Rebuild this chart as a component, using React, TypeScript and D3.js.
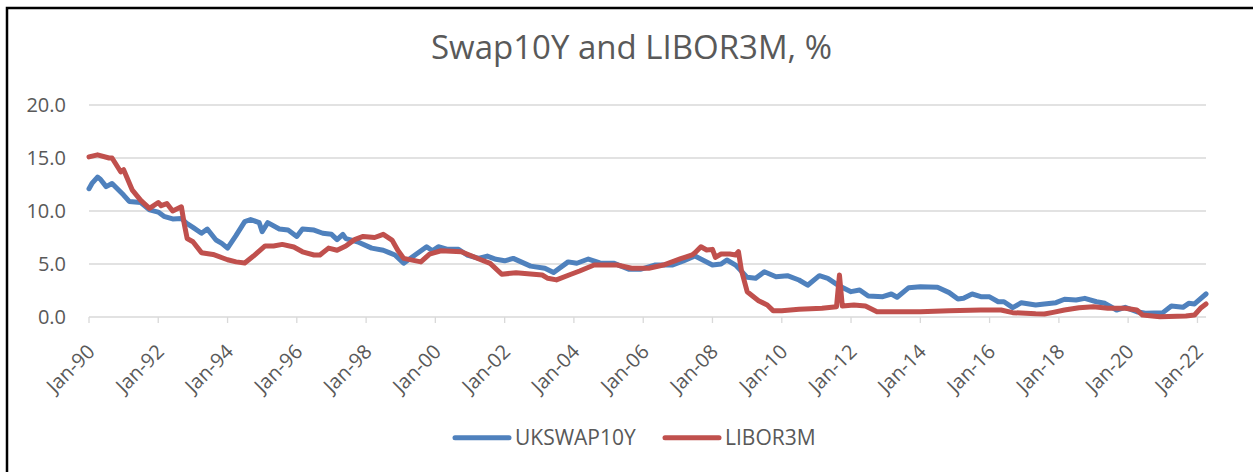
import React from "react";
import * as d3 from "d3";

const blueDates = ["1990-01","1990-02","1990-04","1990-05","1990-07","1990-09","1991-01","1991-03","1991-07","1991-10","1992-01","1992-03","1992-06","1992-09","1992-11","1993-01","1993-04","1993-06","1993-09","1993-11","1994-01","1994-04","1994-07","1994-09","1994-12","1995-01","1995-03","1995-07","1995-10","1996-01","1996-03","1996-07","1996-10","1997-01","1997-03","1997-05","1997-06","1997-10","1998-03","1998-07","1998-09","1998-11","1999-02","1999-06","1999-10","1999-12","2000-02","2000-05","2000-09","2000-12","2001-04","2001-07","2001-10","2002-01","2002-04","2002-10","2003-03","2003-06","2003-11","2004-02","2004-06","2004-10","2005-03","2005-08","2005-12","2006-05","2006-11","2007-03","2007-07","2008-01","2008-04","2008-06","2008-09","2009-01","2009-04","2009-07","2009-11","2010-03","2010-07","2010-10","2011-02","2011-05","2011-09","2012-01","2012-04","2012-07","2012-12","2013-03","2013-05","2013-09","2014-01","2014-07","2014-11","2015-02","2015-04","2015-07","2015-10","2016-01","2016-04","2016-06","2016-09","2016-12","2017-05","2017-08","2017-12","2018-03","2018-07","2018-10","2019-02","2019-05","2019-09","2019-12","2020-04","2020-07","2021-01","2021-04","2021-08","2021-10","2021-12","2022-04"];
const blueValues = [12.1,12.6,13.2,13.0,12.3,12.6,11.5,10.9,10.8,10.1,9.9,9.5,9.25,9.3,8.8,8.45,7.9,8.3,7.26,6.95,6.5,7.7,9.0,9.2,8.9,8.05,8.9,8.3,8.2,7.6,8.3,8.2,7.9,7.8,7.3,7.8,7.4,7.1,6.5,6.3,6.07,5.85,5.07,5.85,6.63,6.25,6.63,6.39,6.39,5.85,5.53,5.75,5.44,5.3,5.53,4.8,4.6,4.2,5.2,5.07,5.47,5.1,5.06,4.5,4.5,4.9,4.9,5.3,5.75,4.9,5.0,5.38,4.9,3.74,3.65,4.27,3.8,3.9,3.49,3.0,3.9,3.65,2.92,2.39,2.55,1.98,1.92,2.17,1.86,2.77,2.86,2.8,2.3,1.7,1.76,2.17,1.92,1.9,1.44,1.44,0.88,1.35,1.13,1.23,1.35,1.67,1.6,1.76,1.44,1.29,0.66,0.91,0.5,0.35,0.41,1.04,0.91,1.29,1.23,2.17];

const redDates = ["1990-01","1990-04","1990-08","1990-09","1990-12","1991-01","1991-04","1991-07","1991-10","1992-01","1992-02","1992-04","1992-06","1992-09","1992-10","1992-11","1993-01","1993-04","1993-08","1994-01","1994-04","1994-07","1994-10","1995-02","1995-05","1995-08","1995-12","1996-03","1996-07","1996-09","1996-12","1997-03","1997-06","1997-09","1997-12","1998-04","1998-07","1998-10","1998-12","1999-02","1999-08","1999-11","2000-03","2000-10","2001-05","2001-08","2001-12","2002-05","2003-02","2003-04","2003-07","2003-12","2004-03","2004-08","2005-01","2005-04","2005-09","2006-03","2006-08","2007-02","2007-06","2007-07","2007-09","2007-11","2008-01","2008-02","2008-04","2008-07","2008-09","2008-10","2008-11","2009-01","2009-05","2009-08","2009-10","2010-01","2010-07","2011-03","2011-08","2011-09","2011-10","2012-02","2012-06","2012-10","2013-05","2014-01","2014-11","2015-10","2016-05","2016-09","2017-05","2017-08","2017-11","2018-03","2018-08","2019-01","2019-06","2019-12","2020-04","2020-06","2020-12","2021-09","2021-12","2022-02","2022-04"];
const redValues = [15.1,15.3,15.0,15.0,13.7,13.9,12.0,11.0,10.25,10.8,10.5,10.7,10.0,10.4,8.8,7.4,7.1,6.07,5.9,5.4,5.2,5.1,5.75,6.7,6.7,6.85,6.6,6.15,5.85,5.85,6.5,6.3,6.7,7.3,7.6,7.5,7.8,7.26,6.3,5.53,5.2,5.94,6.25,6.16,5.38,5.06,4.03,4.18,3.96,3.65,3.5,4.03,4.34,4.9,4.9,4.9,4.6,4.6,4.9,5.5,5.85,6.07,6.63,6.32,6.38,5.63,5.94,5.94,5.85,6.16,4.43,2.39,1.54,1.13,0.6,0.6,0.73,0.82,0.97,3.96,1.04,1.13,1.04,0.5,0.5,0.5,0.6,0.66,0.66,0.41,0.3,0.28,0.44,0.66,0.88,0.97,0.82,0.82,0.66,0.19,0.03,0.1,0.19,0.82,1.23];

const yTicks = [0, 5, 10, 15, 20];
const seriesNames = ["UKSWAP10Y", "LIBOR3M"];
const seriesColors = ["#4F81BD", "#C0504D"];
const title = "Swap10Y and LIBOR3M, %";

const FONT = "'Open Sans', Carlito, Calibri, sans-serif";
const parse = d3.timeParse("%Y-%m");

export default function App() {
  const x = d3
    .scaleTime()
    .domain([parse("1990-01")!, parse("2022-04")!])
    .range([89, 1206]);
  const y = d3.scaleLinear().domain([0, 20]).range([317, 105]);
  const line = d3
    .line<[Date, number]>()
    .x((d) => x(d[0]))
    .y((d) => y(d[1]));

  const blue: [Date, number][] = blueDates.map((d, i) => [parse(d)!, blueValues[i]]);
  const red: [Date, number][] = redDates.map((d, i) => [parse(d)!, redValues[i]]);
  const xTicks = d3.timeYear.every(2)!.range(parse("1990-01")!, parse("2022-02")!);
  const fmt = d3.timeFormat("%b-%y");

  const legendX = [455, 665];

  return (
    <svg
      width={1253}
      height={472}
      style={{ position: "absolute", left: 0, top: 0, background: "#fff" }}
      fontFamily={FONT}
    >
      <rect x={0} y={0} width={1253} height={472} fill="#fff" />
      <rect x={7} y={8} width={1270} height={500} fill="none" stroke="#000" strokeWidth={2.5} />
      <text x={631.5} y={59} textAnchor="middle" fontSize={33} fill="#595959">
        {title}
      </text>
      {yTicks.map((t) => (
        <g key={t}>
          {t > 0 && (
            <line x1={89} x2={1206} y1={y(t)} y2={y(t)} stroke="#d9d9d9" strokeWidth={1.3} />
          )}
          <text x={66} y={y(t)} dy="0.36em" textAnchor="end" fontSize={20} fill="#595959">
            {t.toFixed(1)}
          </text>
        </g>
      ))}
      <line x1={89} x2={1206} y1={y(0)} y2={y(0)} stroke="#d9d9d9" strokeWidth={1.3} />
      {xTicks.map((d) => (
        <g key={+d}>
          <line x1={x(d)} x2={x(d)} y1={y(0)} y2={y(0) + 6} stroke="#d9d9d9" strokeWidth={1.3} />
          <text
            transform={`translate(${x(d) + 7},${353}) rotate(-45)`}
            textAnchor="end"
            fontSize={20}
            fill="#595959"
          >
            {fmt(d)}
          </text>
        </g>
      ))}
      <path d={line(blue)!} fill="none" stroke={seriesColors[0]} strokeWidth={5} strokeLinejoin="round" strokeLinecap="round" />
      <path d={line(red)!} fill="none" stroke={seriesColors[1]} strokeWidth={5} strokeLinejoin="round" strokeLinecap="round" />
      {seriesNames.map((n, i) => (
        <g key={n}>
          <line x1={legendX[i]} x2={legendX[i] + 54} y1={437.7} y2={437.7} stroke={seriesColors[i]} strokeWidth={5} strokeLinecap="round" />
          <text x={legendX[i] + 60} y={445} fontSize={21} fill="#595959">
            {n}
          </text>
        </g>
      ))}
    </svg>
  );
}
